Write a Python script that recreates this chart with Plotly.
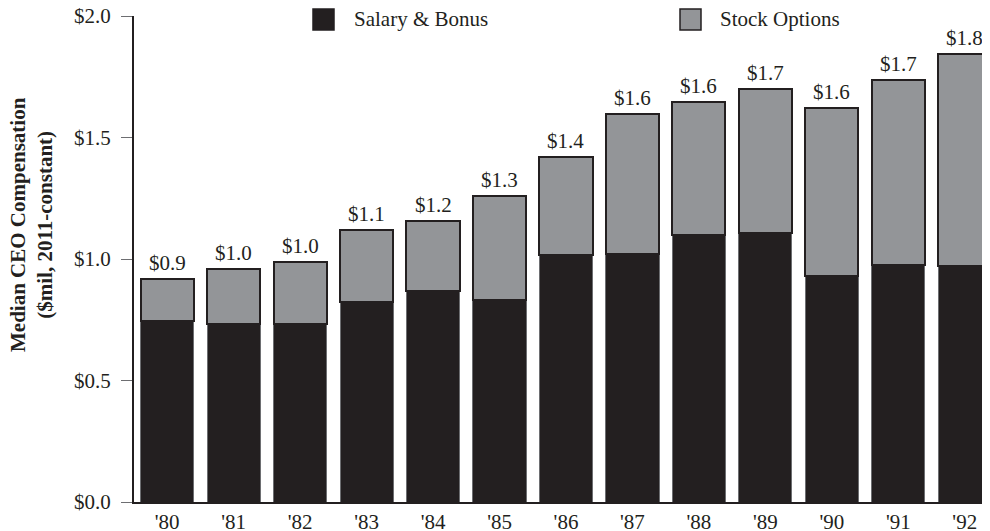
import plotly.graph_objects as go

years = ["'80", "'81", "'82", "'83", "'84", "'85", "'86", "'87", "'88", "'89", "'90", "'91", "'92"]
salary_bonus = [0.745, 0.733, 0.733, 0.823, 0.868, 0.830, 1.015, 1.022, 1.100, 1.106, 0.929, 0.975, 0.970]
stock_options = [0.173, 0.226, 0.255, 0.298, 0.288, 0.428, 0.405, 0.575, 0.548, 0.592, 0.691, 0.763, 0.872]
total_labels = ["$0.9", "$1.0", "$1.0", "$1.1", "$1.2", "$1.3", "$1.4", "$1.6", "$1.6", "$1.7", "$1.6", "$1.7", "$1.8"]
y_ticks = [0.0, 0.5, 1.0, 1.5, 2.0]
y_tick_labels = ["$0.0", "$0.5", "$1.0", "$1.5", "$2.0"]

totals = [s + o for s, o in zip(salary_bonus, stock_options)]

DARK = "#231f20"
GRAY = "#939598"
FONT = "Liberation Serif"

# page offset (body margin of the html page)
OFF = 8
W, H = 990 - OFF, 531 - OFF
ml, mr, mt, mb = 134 - OFF, 0, 16 - OFF, 29
pw, ph = W - ml - mr, H - mt - mb


def px(x):
    return (x - OFF - ml) / pw


def py(y):
    return 1 - (y - OFF - mt) / ph


fig = go.Figure()
fig.add_trace(go.Bar(
    x=years, y=salary_bonus, name="Salary & Bonus",
    marker=dict(color=DARK, line=dict(color="#6d6e71", width=1)),
    width=0.8, showlegend=False,
))
fig.add_trace(go.Bar(
    x=years, y=stock_options, name="Stock Options",
    marker=dict(color=GRAY, line=dict(color=DARK, width=2)),
    width=0.8, showlegend=False,
))

annotations = []
for yr, tot, lab in zip(years, totals, total_labels):
    annotations.append(dict(x=yr, y=tot, xref="x", yref="y", text=lab, showarrow=False,
                            xanchor="center", yanchor="bottom", yshift=2,
                            font=dict(family=FONT, size=21, color=DARK)))

# legend drawn manually
legend_items = [("Salary & Bonus", DARK, 313, 352), ("Stock Options", GRAY, 680, 718)]
shapes = []
for label, col, sx, tx in legend_items:
    shapes.append(dict(type="rect", xref="paper", yref="paper", x0=px(sx), x1=px(sx + 21),
                       y0=py(30), y1=py(9),
                       fillcolor=col, line=dict(color=DARK, width=1.5)))
    annotations.append(dict(xref="paper", yref="paper", x=px(tx), y=py(19.5),
                            xanchor="left", yanchor="middle",
                            text=label, showarrow=False,
                            font=dict(family=FONT, size=21, color=DARK)))

# y-axis title
annotations.append(dict(xref="paper", yref="paper", x=px(31), y=py(225),
                        xanchor="center", yanchor="middle", textangle=-90,
                        text="<b>Median CEO Compensation<br>($mil, 2011-constant)</b>",
                        showarrow=False,
                        font=dict(family=FONT, size=21, color=DARK)))

fig.update_layout(
    width=W, height=H,
    margin=dict(l=ml, r=mr, t=mt, b=mb, autoexpand=False),
    barmode="stack", bargap=0.2,
    plot_bgcolor="white", paper_bgcolor="white",
    font=dict(family=FONT, size=21, color=DARK),
    shapes=shapes, annotations=annotations,
    xaxis=dict(range=[-0.5, 12.38], showline=True, linecolor=DARK, linewidth=2,
               ticks="", showgrid=False, zeroline=False,
               tickfont=dict(family=FONT, size=21, color=DARK)),
    yaxis=dict(range=[0, 2.0], tickvals=y_ticks, ticktext=y_tick_labels,
               showline=True, linecolor=DARK, linewidth=2,
               ticks="outside", ticklen=11, tickcolor="#6d6e71", tickwidth=1,
               ticklabelstandoff=6, ticklabeloverflow="allow",
               showgrid=False, zeroline=False,
               tickfont=dict(family=FONT, size=21, color=DARK)),
)

fig.write_html("out.html")
